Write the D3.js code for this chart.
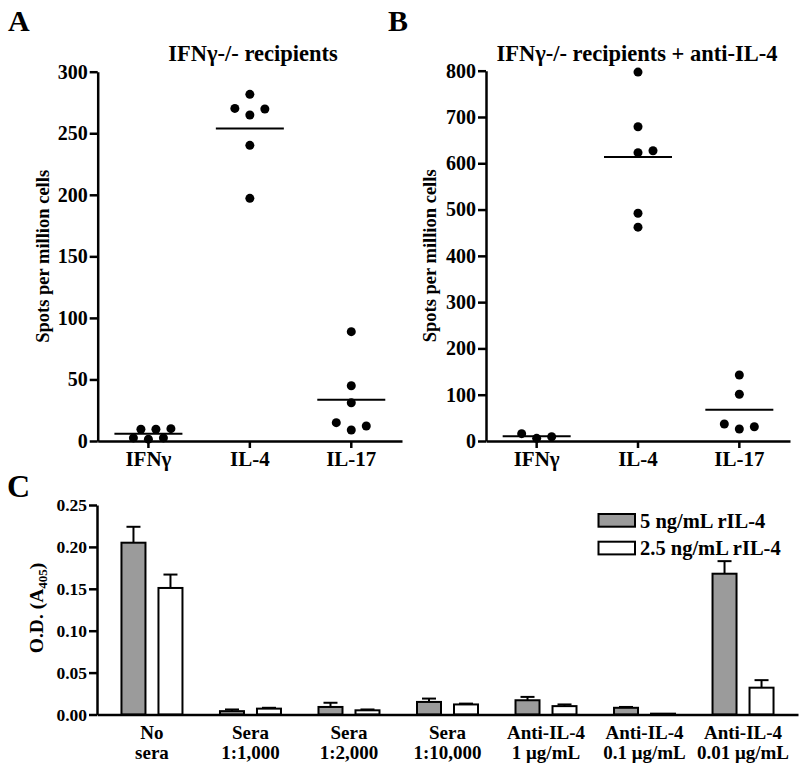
<!DOCTYPE html>
<html><head><meta charset="utf-8">
<script src="https://cdn.jsdelivr.net/npm/d3@7"></script>
<style>
body{margin:0;background:#fff}
svg{display:block}
text{font-family:"Liberation Serif","Times New Roman",serif;font-weight:bold;fill:#000}
</style>
</head><body>
<svg id="chart" width="800" height="768"></svg>
<script>
// ---------- DATA ----------
const cytokines = ["IFNγ", "IL-4", "IL-17"];
// Panel A: IFNγ-/- recipients (spots per million cells), each mouse
const panelA_IFNg = [1.5, 2.5, 2.5, 9.5, 9.5, 10];
const panelA_IL4  = [197.1, 240.2, 264.8, 269.7, 270.2, 281.6];
const panelA_IL17 = [8.9, 12.2, 14.9, 31.1, 44.9, 88.8];
const panelA_ticks = [0, 50, 100, 150, 200, 250, 300];
// Panel B: IFNγ-/- recipients + anti-IL-4
const panelB_IFNg = [5.8, 9.3, 15.8];
const panelB_IL4  = [462, 492, 623, 627, 679, 797];
const panelB_IL17 = [25.9, 30.9, 36.7, 100.9, 142.6];
const panelB_ticks = [0, 100, 200, 300, 400, 500, 600, 700, 800];
// Panel C: ELISA O.D.
const elisaLine1 = ["No", "Sera", "Sera", "Sera", "Anti-IL-4", "Anti-IL-4", "Anti-IL-4"];
const elisaLine2 = ["sera", "1:1,000", "1:2,000", "1:10,000", "1 μg/mL", "0.1 μg/mL", "0.01 μg/mL"];
const seriesNames = ["5 ng/mL rIL-4", "2.5 ng/mL rIL-4"];
const od5     = [0.205, 0.004, 0.009, 0.015, 0.017, 0.008, 0.168];
const od5Err  = [0.019, 0.002, 0.005, 0.004, 0.004, 0.001, 0.015];
const od25    = [0.151, 0.007, 0.005, 0.012, 0.010, 0.001, 0.032];
const od25Err = [0.016, 0.001, 0.001, 0.001, 0.002, 0.000, 0.009];
const odTicks = [0, 0.05, 0.10, 0.15, 0.20, 0.25];

// ---------- HELPERS ----------
const svg = d3.select("#chart");
const AXW = 2.5;

function swarm(values, y, step, D) {
  // ascending order; place at smallest offset that avoids overlap, alternate sides
  const placed = [];
  let displaced = 0;
  const sorted = values.slice().sort((a, b) => a - b);
  sorted.forEach(v => {
    const py = y(v);
    const ok = dx => placed.every(p => Math.hypot(p.dx - dx, p.py - py) >= D);
    if (ok(0)) { placed.push({v, py, dx: 0}); return; }
    const side = displaced % 2 === 0 ? 1 : -1;
    displaced++;
    for (let k = 1; k < 20; k++) {
      if (ok(side * k * step)) { placed.push({v, py, dx: side * k * step}); return; }
      if (ok(-side * k * step)) { placed.push({v, py, dx: -side * k * step}); return; }
    }
  });
  return placed;
}

function styleAxis(g, fs) {
  g.selectAll(".domain").attr("stroke", "#000").attr("stroke-width", AXW);
  g.selectAll(".tick line").attr("stroke", "#000").attr("stroke-width", AXW);
  g.selectAll(".tick text").attr("font-size", fs).attr("font-family", "Liberation Serif")
    .attr("font-weight", "bold").attr("fill", "#000");
}

function dotPanel(opt) {
  const {groups, ticks, ymax, xRange, yRange, title, titleX, ylabelX, letter, letterX} = opt;
  const x = d3.scaleBand().domain(cytokines).range(xRange);
  const y = d3.scaleLinear().domain([0, ymax]).range(yRange);
  const g = svg.append("g");

  const ya = g.append("g").attr("transform", `translate(${xRange[0]},0)`)
    .call(d3.axisLeft(y).tickValues(ticks).tickFormat(d3.format("d")).tickSize(8).tickPadding(2).tickSizeOuter(0));
  styleAxis(ya, 20);
  const xa = g.append("g").attr("transform", `translate(0,${yRange[0]})`)
    .call(d3.axisBottom(x).tickSize(7).tickPadding(3).tickSizeOuter(0));
  styleAxis(xa, 21);

  groups.forEach((vals, i) => {
    const cx = x(cytokines[i]) + x.bandwidth() / 2;
    const pts = swarm(vals, y, 7.5, 11);
    g.selectAll(null).data(pts).join("circle")
      .attr("cx", d => cx + d.dx).attr("cy", d => d.py).attr("r", 4.5).attr("fill", "#000");
    const m = d3.mean(vals);
    g.append("line").attr("x1", cx - 34).attr("x2", cx + 34)
      .attr("y1", y(m)).attr("y2", y(m)).attr("stroke", "#000").attr("stroke-width", 2);
  });

  g.append("text").attr("x", titleX).attr("y", 61).attr("text-anchor", "middle")
    .attr("font-size", 22.5).text(title);
  g.append("text").attr("transform", `translate(${ylabelX},${(yRange[0] + yRange[1]) / 2}) rotate(-90)`)
    .attr("text-anchor", "middle").attr("dy", "0.33em").attr("font-size", 18.5).text("Spots per million cells");
  g.append("text").attr("x", letterX).attr("y", 31).attr("font-size", 30).text(letter);
}

dotPanel({
  groups: [panelA_IFNg, panelA_IL4, panelA_IL17], ticks: panelA_ticks, ymax: 300,
  xRange: [97.7, 402], yRange: [441, 71.7], title: "IFNγ-/- recipients", titleX: 253,
  ylabelX: 43, letter: "A", letterX: 8
});
dotPanel({
  groups: [panelB_IFNg, panelB_IL4, panelB_IL17], ticks: panelB_ticks, ymax: 800,
  xRange: [486, 790], yRange: [441, 70.7], title: "IFNγ-/- recipients + anti-IL-4", titleX: 637,
  ylabelX: 429.5, letter: "B", letterX: 388
});

// ---------- PANEL C ----------
(function () {
  const keys = elisaLine1.map((d, i) => i);
  const x = d3.scalePoint().domain(keys).range([97, 798]).padding(0.558);
  const y = d3.scaleLinear().domain([0, 0.25]).range([714.5, 505]);
  const off = d3.scalePoint().domain([0, 1]).range([-18.5, 18.5]);
  const bw = 24;
  const g = svg.append("g");
  const fills = ["#9b9b9b", "#ffffff"];
  const vals = [od5, od25], errs = [od5Err, od25Err];

  [0, 1].forEach(s => {
    keys.forEach(k => {
      const cx = x(k) + off(s);
      const v = vals[s][k], e = errs[s][k];
      if (e > 0) {
        g.append("line").attr("x1", cx).attr("x2", cx).attr("y1", y(v)).attr("y2", y(v + e))
          .attr("stroke", "#000").attr("stroke-width", 2);
        g.append("line").attr("x1", cx - 7).attr("x2", cx + 7).attr("y1", y(v + e)).attr("y2", y(v + e))
          .attr("stroke", "#000").attr("stroke-width", 2);
      }
      g.append("rect").attr("x", cx - bw / 2).attr("y", y(v)).attr("width", bw)
        .attr("height", Math.max(0, y(0) - y(v))).attr("fill", fills[s])
        .attr("stroke", "#000").attr("stroke-width", 2);
    });
  });

  const ya = g.append("g").attr("transform", "translate(97,0)")
    .call(d3.axisLeft(y).tickValues(odTicks).tickFormat(d3.format(".2f")).tickSize(8).tickPadding(2).tickSizeOuter(0));
  styleAxis(ya, 17.5);
  const xa = g.append("g").attr("transform", `translate(0,${y(0)})`)
    .call(d3.axisBottom(x).tickSize(0).tickFormat(""));
  styleAxis(xa, 17);

  keys.forEach(k => {
    g.append("text").attr("x", x(k)).attr("y", 739).attr("text-anchor", "middle").attr("font-size", 19).text(elisaLine1[k]);
    g.append("text").attr("x", x(k)).attr("y", 759).attr("text-anchor", "middle").attr("font-size", 19).text(elisaLine2[k]);
  });

  const yl = g.append("text").attr("transform", "translate(36.5,608) rotate(-90)")
    .attr("text-anchor", "middle").attr("dy", "0.33em").attr("font-size", 19.5);
  yl.append("tspan").text("O.D. (A");
  yl.append("tspan").attr("font-size", 13).attr("dy", 4).text("405");
  yl.append("tspan").attr("dy", -4).text(")");

  const leg = g.append("g");
  seriesNames.forEach((name, i) => {
    leg.append("rect").attr("x", 598.5).attr("y", 514 + i * 27.7).attr("width", 36.5).attr("height", 12.7)
      .attr("fill", fills[i]).attr("stroke", "#000").attr("stroke-width", 2);
    leg.append("text").attr("x", 640).attr("y", 527.5 + i * 27.7).attr("font-size", 20.5).text(name);
  });

  g.append("text").attr("x", 7).attr("y", 497).attr("font-size", 32).text("C");
})();
</script>
</body></html>
